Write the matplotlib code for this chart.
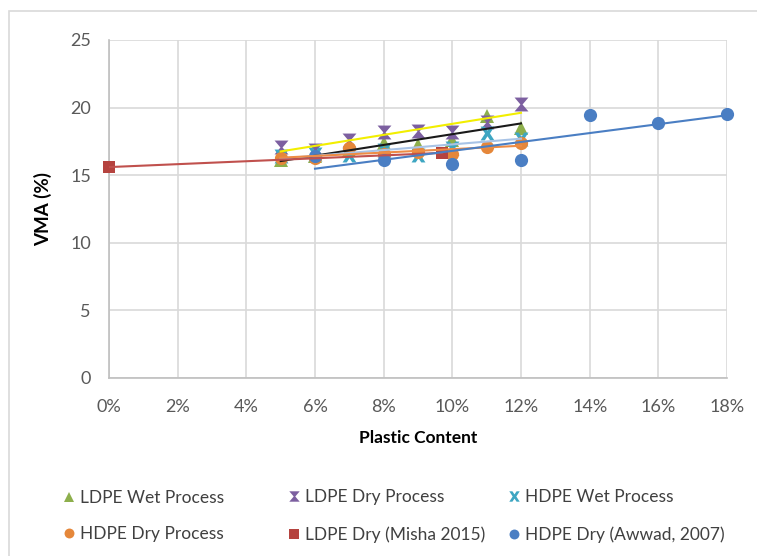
import matplotlib
matplotlib.use('Agg')

import numpy as np
import matplotlib.pyplot as plt
from matplotlib.path import Path
from matplotlib.lines import Line2D
from matplotlib.ticker import PercentFormatter

# plastic content (fraction) for the lab mixes
content = [0.05, 0.06, 0.07, 0.08, 0.09, 0.10, 0.11, 0.12]
ldpe_wet = [16.15, 16.4, 16.9, 17.35, 17.2, 17.6, 19.4, 18.5]
ldpe_dry = [17.1, 16.9, 17.6, 18.2, 18.3, 18.2, 18.9, 20.3]
hdpe_wet = [16.4, 16.6, 16.5, 16.9, 16.5, 17.0, 18.1, 17.7]
hdpe_dry = [16.25, 16.3, 17.0, 16.6, 16.7, 16.6, 17.1, 17.35]

# literature values
misha_x = [0.0, 0.097]
misha_y = [15.6, 16.65]
awwad_x = [0.06, 0.08, 0.10, 0.12, 0.14, 0.16, 0.18]
awwad_y = [16.4, 16.1, 15.8, 16.1, 19.45, 18.85, 19.5]

x_ticks = [0, 0.02, 0.04, 0.06, 0.08, 0.10, 0.12, 0.14, 0.16, 0.18]
y_ticks = [0, 5, 10, 15, 20, 25]

plt.rcParams['font.family'] = ['Lato', 'DejaVu Sans']

# hourglass and capped-x markers
hourglass = Path([(-1, 1), (1, 1), (0.15, 0), (1, -1), (-1, -1), (-0.15, 0), (-1, 1)],
                 [Path.MOVETO] + [Path.LINETO] * 5 + [Path.CLOSEPOLY])
capx = Path([(-1, 1), (-0.4, 1), (0, 0.4), (0.4, 1), (1, 1), (0.35, 0), (1, -1),
             (0.4, -1), (0, -0.4), (-0.4, -1), (-1, -1), (-0.35, 0), (-1, 1)],
            [Path.MOVETO] + [Path.LINETO] * 11 + [Path.CLOSEPOLY])

c_green = '#8DAF4C'
c_purple = '#7C5FA0'
c_teal = '#3EA6C2'
c_orange = '#E5873A'
c_red = '#B5433F'
c_blue = '#4A7EC3'

fig = plt.figure(figsize=(7.57, 5.56), dpi=100)
ax = fig.add_axes([109 / 757, 1 - 378 / 556, 618 / 757, 338 / 556])

series = [
    (content, ldpe_wet, '^', 10, c_green, 'LDPE Wet Process'),
    (content, ldpe_dry, hourglass, 10, c_purple, 'LDPE Dry Process'),
    (content, hdpe_wet, capx, 10, c_teal, 'HDPE Wet Process'),
    (content, hdpe_dry, 'o', 9.5, c_orange, 'HDPE Dry Process'),
    (misha_x, misha_y, 's', 9, c_red, 'LDPE Dry (Misha 2015)'),
    (awwad_x, awwad_y, 'o', 9.5, c_blue, 'HDPE Dry (Awwad, 2007)'),
]
for xs, ys, mk, ms, col, lab in series:
    ax.plot(xs, ys, linestyle='none', marker=mk, markersize=ms, color=col,
            markeredgewidth=0, label=lab, zorder=3, clip_on=False)

# linear trendlines over each data range
trend_colors = ['#1A1A1A', '#F2EE00', '#A8C3E6', '#EE8C45', '#C0504D', '#4A7EC3']
for (xs, ys, mk, ms, col, lab), tc in zip(series, trend_colors):
    k, b = np.polyfit(xs, ys, 1)
    xx = np.array([min(xs), max(xs)])
    ax.plot(xx, k * xx + b, color=tc, linewidth=1.5, zorder=4)

ax.set_xlim(0, 0.18)
ax.set_ylim(0, 25)
ax.set_xticks(x_ticks)
ax.set_yticks(y_ticks)
ax.xaxis.set_major_formatter(PercentFormatter(1.0, decimals=0))
ax.grid(True, color='#D9D9D9', linewidth=1.2, zorder=0)
ax.set_axisbelow(True)
for s in ['top', 'right']:
    ax.spines[s].set_visible(False)
for s in ['left', 'bottom']:
    ax.spines[s].set_color('#BFBFBF')
    ax.spines[s].set_linewidth(1.2)
ax.tick_params(length=0, labelsize=13, labelcolor='#595959')
ax.tick_params(axis='x', pad=15)
ax.tick_params(axis='y', pad=13)
ax.set_xlabel('Plastic Content', fontsize=12.5, fontweight='bold', labelpad=11)
ax.set_ylabel('VMA (%)', fontsize=13.5, fontweight='bold', labelpad=13)

# legend: three columns, two rows, filled row by row
col_x = [63, 288, 508]
for i, x0 in enumerate(col_x):
    picked = [series[i], series[i + 3]]
    handles = [Line2D([], [], linestyle='none', marker=mk, markersize=ms * 0.75,
                      color=col, markeredgewidth=0) for xs, ys, mk, ms, col, lab in picked]
    leg = fig.legend(handles, [p[5] for p in picked], loc='center left',
                     bbox_to_anchor=(x0 / 757, 1 - 516 / 556), frameon=False,
                     fontsize=12.5, labelcolor='#404040', handlelength=0.7,
                     handletextpad=0.3, labelspacing=1.2, borderpad=0,
                     borderaxespad=0)

# chart border
fig.add_artist(plt.Rectangle((9 / 757, -0.05), 1.0, 1 - 11 / 556 + 0.05,
                             transform=fig.transFigure, fill=False,
                             edgecolor='#D9D9D9', linewidth=1.2))

fig.savefig('out.png', dpi=100)
